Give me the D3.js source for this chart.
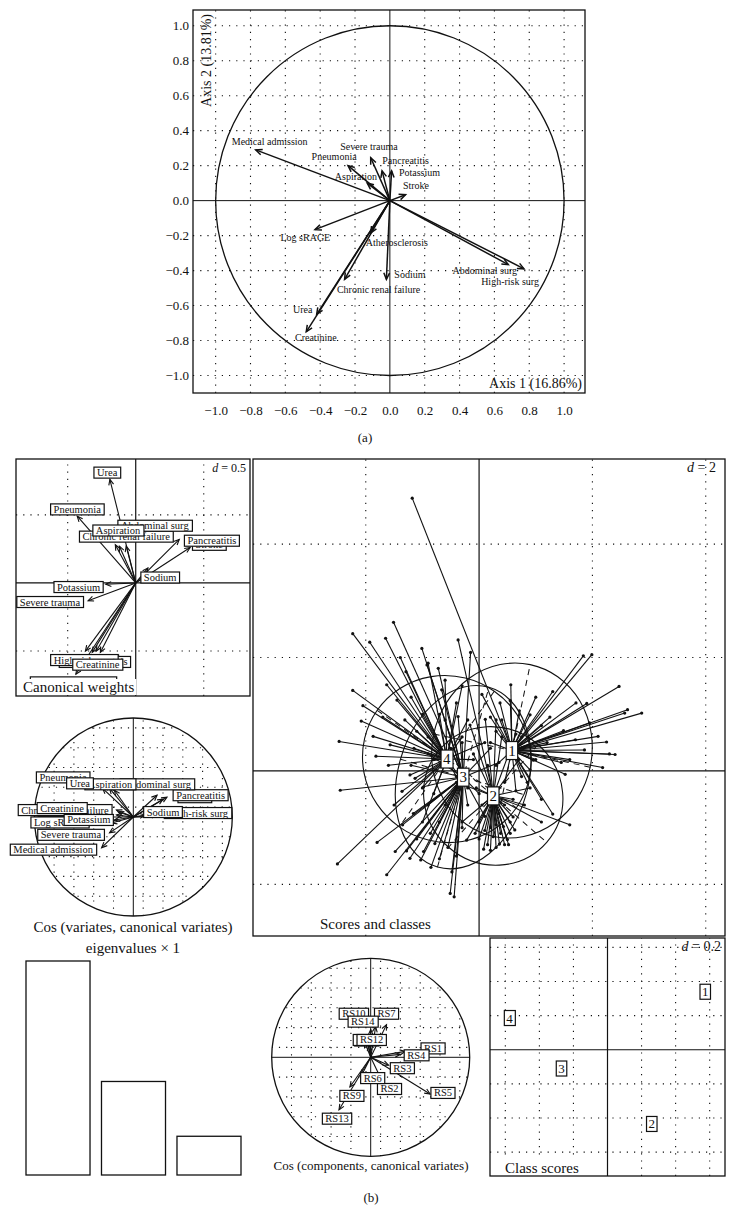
<!DOCTYPE html>
<html>
<head>
<meta charset="utf-8">
<script src="https://cdn.jsdelivr.net/npm/d3@7"></script>
<style>
  body { margin: 0; background: #fff; }
  svg text { font-family: "Liberation Serif", "DejaVu Serif", serif; fill: #111; }
</style>
</head>
<body>
<div id="chart"></div>
<script>
// ---------- data: (a) correlation circle
const varNames = ["Medical admission", "Severe trauma", "Pneumonia", "Pancreatitis", "Potassium",
  "Aspiration", "Stroke", "Log sRAGE", "Atherosclerosis", "Sodium", "Chronic renal failure",
  "Urea", "Creatinine", "Abdominal surg", "High-risk surg"];
const axis1 = [-0.77, -0.11, -0.24, -0.045, 0.01, -0.13, 0.09, -0.43, -0.11, -0.02, -0.26, -0.42, -0.48, 0.68, 0.77];
const axis2 = [0.29, 0.245, 0.20, 0.17, 0.17, 0.10, 0.034, -0.166, -0.185, -0.45, -0.45, -0.65, -0.75, -0.366, -0.39];
const labAX = [-0.69, -0.12, -0.32, 0.09, 0.17, -0.195, 0.15, -0.485, 0.04, 0.115, -0.065, -0.50, -0.425, 0.545, 0.69];
const labAY = [0.34, 0.31, 0.25, 0.23, 0.16, 0.14, 0.086, -0.21, -0.24, -0.42, -0.51, -0.62, -0.785, -0.40, -0.46];
const ticksA = [-1.0, -0.8, -0.6, -0.4, -0.2, 0.0, 0.2, 0.4, 0.6, 0.8, 1.0];

// ---------- data: (b) canonical weights (drawing order)
const cwNames = ["Medical admission", "Log sRAGE", "Atherosclerosis", "High-risk surg", "Creatinine",
  "Severe trauma", "Potassium", "Sodium", "Stroke", "Pancreatitis", "Chronic renal failure",
  "Abdominal surg", "Aspiration", "Pneumonia", "Urea"];
const cwX = [-0.44, -0.32, -0.29, -0.37, -0.26, -0.35, -0.22, 0.09, 0.40, 0.32, -0.12, -0.07, -0.15, -0.43, -0.19];
const cwY = [-0.67, -0.51, -0.50, -0.50, -0.51, -0.13, -0.01, 0.11, 0.26, 0.32, 0.27, 0.27, 0.28, 0.49, 0.76];
const cwLabX = [-0.46, -0.34, -0.30, -0.38, -0.28, -0.63, -0.42, 0.18, 0.54, 0.56, -0.07, 0.14, -0.13, -0.43, -0.21];
const cwLabY = [-0.73, -0.57, -0.58, -0.566, -0.60, -0.14, -0.03, 0.04, 0.28, 0.31, 0.34, 0.42, 0.385, 0.54, 0.81];

// ---------- data: (b) cos (variates, canonical variates)
const cvNames = ["Stroke", "Atherosclerosis", "Chronic renal failure", "Log sRAGE", "Creatinine",
  "Potassium", "Severe trauma", "Medical admission", "High-risk surg", "Sodium", "Pancreatitis",
  "Abdominal surg", "Aspiration", "Pneumonia", "Urea"];
const cvX = [0.30, -0.15, -0.17, -0.22, -0.17, -0.19, -0.24, -0.32, 0.24, 0.12, 0.34, 0.24, -0.19, -0.31, -0.24];
const cvY = [0.18, 0.05, 0.02, -0.06, 0.07, -0.03, -0.16, -0.31, 0.02, 0.02, 0.20, 0.22, 0.27, 0.29, 0.29];
const cvLabX = [0.62, -0.60, -0.69, -0.74, -0.72, -0.45, -0.63, -0.81, 0.65, 0.30, 0.68, 0.24, -0.235, -0.71, -0.54];
const cvLabY = [0.20, 0.06, 0.07, -0.055, 0.09, -0.03, -0.18, -0.33, 0.04, 0.05, 0.22, 0.33, 0.33, 0.40, 0.34];

// ---------- data: (b) eigenvalues
const eigenvalues = [1.0, 0.437, 0.181];

// ---------- data: (b) scores and classes
const classIds = ["1", "2", "3", "4"];
const centerX = [0.58, 0.25, -0.28, -0.57];
const centerY = [0.36, -0.44, -0.11, 0.21];
const ellA = [1.55, 1.25, 1.65, 1.50];
const ellB = [1.41, 1.20, 1.15, 1.46];
const ellAngle = [78, -41, 74, -35];
const class1 = [[-1.18, 4.81], [1.84, 2.03], [1.99, 2.05], [2.47, 1.49], [0.56, 1.52], [2.18, 0.06], [2.40, 0.29],
  [2.25, 0.51], [2.62, 1.08], [2.87, 1.02], [2.57, 1.02], [1.90, 1.19], [1.71, 1.20], [1.86, 0.37], [1.49, 0.71],
  [2.10, 0.61], [0.90, 0.99], [0.71, 1.06], [0.55, 1.24], [0.37, 1.20], [1.30, -0.76], [0.96, 0.19], [0.90, 0.02],
  [1.52, -0.06], [1.20, 0.50], [1.10, 0.80], [0.30, 0.70], [0.85, -0.20], [1.60, 0.20], [1.10, -0.50], [0.20, 0.50],
  [1.30, 1.40], [1.95, 0.85], [0.75, 0.60], [1.45, 0.15], [2.30, 0.30], [0.05, 1.35], [1.00, 1.30],
  [0.90, 0.45], [0.30, 0.10], [0.75, -0.10], [0.40, 0.90], [1.00, 0.20], [0.20, 0.95], [0.65, -0.35],
  [1.25, 0.95], [0.45, -0.20], [1.70, 0.55]];
const class2 = [[-0.37, 2.31], [0.08, -1.38], [0.36, -1.29], [0.50, -1.21], [0.63, -1.04], [-0.07, -1.10], [0.25, -1.16],
  [0.43, -0.98], [0.60, -0.81], [-0.22, -1.22], [0.11, 0.91], [-0.16, 0.81], [0.90, -0.30], [1.10, -0.90], [0.00, -0.90],
  [0.45, -1.30], [0.30, -1.35], [0.15, -1.30], [0.55, -0.90], [0.70, 0.20], [0.40, 0.60], [-0.40, -0.20], [-0.10, 0.30],
  [0.20, -1.40], [0.38, -1.10], [0.52, -1.30], [0.10, -1.05], [0.80, -0.60], [-0.30, -0.90], [0.65, 0.65], [0.30, 0.90],
  [1.60, -0.95], [0.35, -0.75], [0.05, -0.60], [0.60, -0.50], [0.20, -1.00], [0.45, -0.60], [-0.05, -0.30],
  [0.30, -0.95], [0.15, 0.10], [0.55, -1.10], [0.00, -1.20]];
const class3 = [[-1.51, 2.62], [-1.01, 2.16], [-0.92, 1.87], [-0.72, 1.81], [-2.45, -0.34], [-1.80, -1.26], [-1.63, -1.83],
  [-1.48, -1.42], [-1.28, -1.41], [-1.22, -1.54], [-1.03, -1.57], [-0.98, -1.42], [-0.51, -2.16], [-0.44, -2.22],
  [-0.48, -1.78], [-0.86, -1.10], [-0.78, -1.28], [-1.16, -0.75], [-0.98, -0.28], [-0.66, 1.43], [-0.15, 2.09],
  [-0.37, 0.96], [-0.60, -0.60], [0.10, -0.80], [-0.90, 0.30], [-0.30, -1.00], [0.20, 0.40], [-1.10, -1.20],
  [-0.70, -1.55], [-0.55, -1.35], [-1.35, -0.95], [0.35, 0.15], [-0.70, -0.90], [-0.50, 0.40], [-0.20, -0.60],
  [-0.90, -0.60], [-0.40, -1.50], [-0.60, 0.90], [0.00, -0.40], [-1.20, 0.10], [-0.85, -1.70], [-0.30, 0.50]];
const class4 = [[-2.23, 2.42], [-1.93, 2.27], [-1.65, 2.34], [-1.39, 2.00], [-1.63, 1.52], [-2.23, 1.42], [-2.08, 0.88],
  [-2.47, 0.52], [-1.87, 0.61], [-1.82, 0.26], [-1.57, 0.46], [-2.50, -1.64], [-1.29, 1.75], [-1.45, 1.25], [-1.31, 0.90],
  [-1.22, -0.07], [-1.13, -0.13], [-1.36, -0.36], [-1.00, 1.00], [-0.20, 0.90], [0.10, 0.50], [-0.40, 1.20],
  [-0.90, 0.60], [-0.80, -0.40], [-1.00, -0.90], [-0.20, -0.30], [-0.90, 1.90], [-1.70, 0.95], [-1.15, 0.40],
  [-0.60, 1.60], [-1.50, -0.60], [-2.05, 1.15], [-0.30, 0.60], [-1.10, 0.70], [-0.80, 0.20], [-0.40, -0.10],
  [-1.20, 1.30], [-0.70, 1.00], [-0.30, 1.50], [-1.60, 0.10], [-0.10, 0.20], [-1.00, -0.30]];
const classPoints = [class1, class2, class3, class4];

// ---------- data: (b) cos (components, canonical variates)
const rsNames = ["RS8", "RS11", "RS10", "RS7", "RS14", "RS12", "RS1", "RS4", "RS3", "RS2", "RS6", "RS5", "RS9", "RS13"];
const rsX = [-0.02, -0.06, 0.00, 0.16, 0.05, -0.04, 0.35, 0.30, 0.18, 0.11, -0.09, 0.60, -0.21, -0.32];
const rsY = [0.12, 0.15, 0.28, 0.33, 0.31, 0.18, 0.06, 0.03, -0.08, -0.23, -0.18, -0.37, -0.30, -0.53];
const rsLabX = [-0.04, -0.03, -0.17, 0.16, -0.08, 0.01, 0.63, 0.46, 0.32, 0.19, 0.02, 0.73, -0.19, -0.34];
const rsLabY = [0.17, 0.175, 0.44, 0.44, 0.36, 0.175, 0.09, 0.02, -0.11, -0.32, -0.21, -0.36, -0.39, -0.62];

// ---------- data: (b) class scores
const csX = [0.574, 0.26, -0.27, -0.575];
const csY = [0.34, -0.435, -0.11, 0.186];

// ---------- helpers
const ink = "#111";
const svg = d3.select("#chart").append("svg").attr("width", 736).attr("height", 1232);

function dotted(sel) {
  return sel.attr("stroke", ink).attr("stroke-width", 1.1).attr("stroke-dasharray", "1.2,6").attr("fill", "none");
}

function arrow(g, x1, y1, x2, y2, len, sw) {
  g.append("line").attr("x1", x1).attr("y1", y1).attr("x2", x2).attr("y2", y2)
   .attr("stroke", ink).attr("stroke-width", sw);
  const a = Math.atan2(y2 - y1, x2 - x1), w = 0.42;
  const p1 = [x2 + len * Math.cos(a + Math.PI - w), y2 + len * Math.sin(a + Math.PI - w)];
  const p2 = [x2 + len * Math.cos(a + Math.PI + w), y2 + len * Math.sin(a + Math.PI + w)];
  g.append("path").attr("d", "M" + p1 + "L" + x2 + "," + y2 + "L" + p2)
   .attr("fill", "none").attr("stroke", ink).attr("stroke-width", sw);
}

// text with a rectangle behind it (boxed label or white-backed title)
function boxText(g, x, y, txt, fs, stroke, anchor, padX, padY) {
  const t = g.append("text").attr("x", x).attr("y", y)
    .attr("text-anchor", anchor || "middle").attr("dominant-baseline", "central")
    .style("font-size", fs + "px").text(txt);
  const bb = t.node().getBBox();
  const px = padX == null ? 3 : padX, py = padY == null ? 0 : padY;
  g.insert("rect", () => t.node())
    .attr("x", bb.x - px).attr("y", bb.y - py)
    .attr("width", bb.width + 2 * px).attr("height", bb.height + 2 * py)
    .attr("fill", "#fff").attr("stroke", stroke ? ink : "none").attr("stroke-width", 1.2);
  return t;
}

function dText(g, x, y, label, fs) {
  const t = g.append("text").attr("x", x).attr("y", y).attr("text-anchor", "end").style("font-size", fs + "px");
  t.append("tspan").style("font-style", "italic").text("d");
  t.append("tspan").text(" = " + label);
}

function gridPanel(g, xs, ys, gx, gy, clip) {
  const gg = g.append("g").attr("clip-path", clip ? "url(#" + clip + ")" : null);
  const [x0, x1] = xs.range(), [y0, y1] = ys.range();
  gg.selectAll(".gx").data(gx).join("line")
    .attr("x1", d => xs(d)).attr("x2", d => xs(d)).attr("y1", y0).attr("y2", y1).call(dotted);
  gg.selectAll(".gy").data(gy).join("line")
    .attr("y1", d => ys(d)).attr("y2", d => ys(d)).attr("x1", x0).attr("x2", x1).call(dotted);
}

// ================= (a)
const xa = d3.scaleLinear().domain([-1.13, 1.12]).range([193, 585]);
const ya = d3.scaleLinear().domain([-1.1, 1.09]).range([393, 10]);
const ga = svg.append("g");
gridPanel(ga, xa, ya, ticksA.filter(d => d !== 0), ticksA.filter(d => d !== 0));
ga.append("line").attr("x1", xa(0)).attr("x2", xa(0)).attr("y1", 10).attr("y2", 393).attr("stroke", ink);
ga.append("line").attr("y1", ya(0)).attr("y2", ya(0)).attr("x1", 193).attr("x2", 585).attr("stroke", ink);
ga.append("ellipse").attr("cx", xa(0)).attr("cy", ya(0))
  .attr("rx", xa(1) - xa(0)).attr("ry", ya(0) - ya(1))
  .attr("fill", "none").attr("stroke", ink).attr("stroke-width", 1.3);
varNames.forEach((n, i) => arrow(ga, xa(0), ya(0), xa(axis1[i]), ya(axis2[i]), 7, 1.5));
ga.selectAll(".lab").data(varNames).join("text")
  .attr("x", (d, i) => xa(labAX[i])).attr("y", (d, i) => ya(labAY[i]))
  .attr("text-anchor", "middle").attr("dominant-baseline", "central")
  .style("font-size", "10px").text(d => d);
ga.append("text").attr("transform", "translate(" + 211 + "," + 14 + ")rotate(-90)")
  .attr("text-anchor", "end").style("font-size", "14px").text("Axis 2 (13.81%)");
ga.append("text").attr("x", 582).attr("y", 388).attr("text-anchor", "end")
  .style("font-size", "14px").text("Axis 1 (16.86%)");
ga.append("rect").attr("x", 193).attr("y", 10).attr("width", 392).attr("height", 383)
  .attr("fill", "none").attr("stroke", ink).attr("stroke-width", 1.3);
ga.append("g").attr("transform", "translate(0,393)")
  .call(d3.axisBottom(xa).tickValues(ticksA).tickSize(0).tickPadding(13).tickFormat(d3.format(".1f")))
  .call(g => g.select(".domain").remove())
  .call(g => g.selectAll("text").style("font-size", "13px").attr("fill", ink)
    .style("font-family", "'Liberation Serif', serif"));
ga.append("g").attr("transform", "translate(193,0)")
  .call(d3.axisLeft(ya).tickValues(ticksA).tickSize(0).tickPadding(4).tickFormat(d3.format(".1f")))
  .call(g => g.select(".domain").remove())
  .call(g => g.selectAll("text").style("font-size", "13px").attr("fill", ink)
    .style("font-family", "'Liberation Serif', serif"));
ga.append("text").attr("x", 365).attr("y", 442).attr("text-anchor", "middle").style("font-size", "13px").text("(a)");

// ================= (b) canonical weights
const xw = d3.scaleLinear().domain([-0.88, 0.84]).range([16, 250]);
const yw = d3.scaleLinear().domain([-0.83, 0.91]).range([696, 459]);
const gw = svg.append("g");
gw.append("rect").attr("x", 16).attr("y", 459).attr("width", 234).attr("height", 237).attr("fill", "#fff");
gridPanel(gw, xw, yw, [-0.5, 0.5], [-0.5, 0.5]);
gw.append("line").attr("x1", xw(0)).attr("x2", xw(0)).attr("y1", 459).attr("y2", 696).attr("stroke", ink).attr("stroke-width", 1.2);
gw.append("line").attr("y1", yw(0)).attr("y2", yw(0)).attr("x1", 16).attr("x2", 250).attr("stroke", ink).attr("stroke-width", 1.2);
cwNames.forEach((n, i) => arrow(gw, xw(0), yw(0), xw(cwX[i]), yw(cwY[i]), 6, 1.1));
cwNames.forEach((n, i) => boxText(gw, xw(cwLabX[i]), yw(cwLabY[i]), n, 10.5, true));
dText(gw, 246, 472, "0.5", 12);
boxText(gw, 23, 687, "Canonical weights", 15, false, "start", 2, 0);
gw.append("rect").attr("x", 16).attr("y", 459).attr("width", 234).attr("height", 237)
  .attr("fill", "none").attr("stroke", ink).attr("stroke-width", 1.3);

// ================= (b) cos (variates, canonical variates)
const xv = d3.scaleLinear().domain([-1, 1]).range([34.3, 232.3]);
const yv = d3.scaleLinear().domain([-1, 1]).range([916, 718]);
const gv = svg.append("g");
svg.append("defs").append("clipPath").attr("id", "clipV").append("circle")
  .attr("cx", xv(0)).attr("cy", yv(0)).attr("r", xv(1) - xv(0));
const fine = d3.range(-9, 10).filter(d => d !== 0).map(d => d / 10);
gridPanel(gv, xv, yv, fine.filter((d, i) => i % 2 === 1), fine.filter((d, i) => i % 2 === 1), "clipV");
gv.append("circle").attr("cx", xv(0)).attr("cy", yv(0)).attr("r", xv(1) - xv(0))
  .attr("fill", "none").attr("stroke", ink).attr("stroke-width", 1.3);
gv.append("line").attr("x1", xv(0)).attr("x2", xv(0)).attr("y1", yv(1)).attr("y2", yv(-1)).attr("stroke", ink);
gv.append("line").attr("y1", yv(0)).attr("y2", yv(0)).attr("x1", xv(-1)).attr("x2", xv(1)).attr("stroke", ink);
cvNames.forEach((n, i) => arrow(gv, xv(0), yv(0), xv(cvX[i]), yv(cvY[i]), 6, 1.1));
cvNames.forEach((n, i) => boxText(gv, xv(cvLabX[i]), yv(cvLabY[i]), n, 10.5, true));
gv.append("text").attr("x", 133).attr("y", 932).attr("text-anchor", "middle")
  .style("font-size", "15px").text("Cos (variates, canonical variates)");

// ================= (b) eigenvalues
const xe = d3.scaleBand().domain(eigenvalues.map((d, i) => i)).range([26, 241]).paddingInner(0.152);
const ye = d3.scaleLinear().domain([0, d3.max(eigenvalues)]).range([1175, 961]);
const ge = svg.append("g");
ge.append("text").attr("x", 133).attr("y", 953).attr("text-anchor", "middle")
  .style("font-size", "15px").text("eigenvalues × 1");
ge.selectAll("rect").data(eigenvalues).join("rect")
  .attr("x", (d, i) => xe(i)).attr("width", xe.bandwidth())
  .attr("y", d => ye(d)).attr("height", d => ye(0) - ye(d))
  .attr("fill", "#fff").attr("stroke", ink).attr("stroke-width", 1.3);

// ================= (b) scores and classes
const xs = d3.scaleLinear().domain([-3.99, 4.34]).range([253, 725]);
const ys = d3.scaleLinear().domain([-2.91, 5.50]).range([936, 459]);
const gs = svg.append("g");
gridPanel(gs, xs, ys, [-2, 2, 4], [-2, 2, 4]);
gs.append("line").attr("x1", xs(0)).attr("x2", xs(0)).attr("y1", 459).attr("y2", 936).attr("stroke", ink).attr("stroke-width", 1.2);
gs.append("line").attr("y1", ys(0)).attr("y2", ys(0)).attr("x1", 253).attr("x2", 725).attr("stroke", ink).attr("stroke-width", 1.2);
const kx = xs(1) - xs(0), ky = ys(0) - ys(1);
classIds.forEach((c, k) => {
  const cx = xs(centerX[k]), cy = ys(centerY[k]);
  const rot = "translate(" + cx + "," + cy + ")rotate(" + (-ellAngle[k]) + ")";
  gs.append("ellipse").attr("transform", rot).attr("rx", ellA[k] * kx).attr("ry", ellB[k] * ky)
    .attr("fill", "none").attr("stroke", ink).attr("stroke-width", 1.1);
  gs.append("line").attr("transform", rot).attr("x1", -ellA[k] * kx).attr("x2", ellA[k] * kx)
    .attr("stroke", ink).attr("stroke-dasharray", "6,5");
  gs.append("line").attr("transform", rot).attr("y1", -ellB[k] * ky).attr("y2", ellB[k] * ky)
    .attr("stroke", ink).attr("stroke-dasharray", "6,5");
});
classPoints.forEach((pts, k) => {
  gs.append("g").selectAll("line").data(pts).join("line")
    .attr("x1", xs(centerX[k])).attr("y1", ys(centerY[k]))
    .attr("x2", d => xs(d[0])).attr("y2", d => ys(d[1]))
    .attr("stroke", ink).attr("stroke-width", 1.1);
  gs.append("g").selectAll("circle").data(pts).join("circle")
    .attr("cx", d => xs(d[0])).attr("cy", d => ys(d[1])).attr("r", 1.6).attr("fill", ink);
});
classIds.forEach((c, k) => boxText(gs, xs(centerX[k]), ys(centerY[k]), c, 15, true, "middle", 2, 1));
dText(gs, 716, 472, "2", 14);
boxText(gs, 320, 924, "Scores and classes", 15, false, "start", 2, 0);
gs.append("rect").attr("x", 253).attr("y", 459).attr("width", 472).attr("height", 477)
  .attr("fill", "none").attr("stroke", ink).attr("stroke-width", 1.3);

// ================= (b) cos (components, canonical variates)
const xr = d3.scaleLinear().domain([-1, 1]).range([271.7, 469.7]);
const yr = d3.scaleLinear().domain([-1, 1]).range([1156.3, 958.3]);
const gr = svg.append("g");
svg.select("defs").append("clipPath").attr("id", "clipR").append("circle")
  .attr("cx", xr(0)).attr("cy", yr(0)).attr("r", xr(1) - xr(0));
gridPanel(gr, xr, yr, fine.filter((d, i) => i % 2 === 1), fine.filter((d, i) => i % 2 === 1), "clipR");
gr.append("circle").attr("cx", xr(0)).attr("cy", yr(0)).attr("r", xr(1) - xr(0))
  .attr("fill", "none").attr("stroke", ink).attr("stroke-width", 1.3);
gr.append("line").attr("x1", xr(0)).attr("x2", xr(0)).attr("y1", yr(1)).attr("y2", yr(-1)).attr("stroke", ink);
gr.append("line").attr("y1", yr(0)).attr("y2", yr(0)).attr("x1", xr(-1)).attr("x2", xr(1)).attr("stroke", ink);
rsNames.forEach((n, i) => arrow(gr, xr(0), yr(0), xr(rsX[i]), yr(rsY[i]), 6, 1.1));
rsNames.forEach((n, i) => boxText(gr, xr(rsLabX[i]), yr(rsLabY[i]), n, 10.5, true));
gr.append("text").attr("x", 371).attr("y", 1170).attr("text-anchor", "middle")
  .style("font-size", "13px").text("Cos (components, canonical variates)");
gr.append("text").attr("x", 371).attr("y", 1202).attr("text-anchor", "middle")
  .style("font-size", "13px").text("(b)");

// ================= (b) class scores
const xc = d3.scaleLinear().domain([-0.69, 0.69]).range([490, 725]);
const yc = d3.scaleLinear().domain([-0.74, 0.655]).range([1176, 938]);
const gc = svg.append("g");
gc.append("rect").attr("x", 490).attr("y", 938).attr("width", 235).attr("height", 238).attr("fill", "#fff");
const cg = [-0.6, -0.4, -0.2, 0.2, 0.4, 0.6];
gridPanel(gc, xc, yc, cg, cg);
gc.append("line").attr("x1", xc(0)).attr("x2", xc(0)).attr("y1", 938).attr("y2", 1176).attr("stroke", ink).attr("stroke-width", 1.2);
gc.append("line").attr("y1", yc(0)).attr("y2", yc(0)).attr("x1", 490).attr("x2", 725).attr("stroke", ink).attr("stroke-width", 1.2);
classIds.forEach((c, k) => boxText(gc, xc(csX[k]), yc(csY[k]), c, 13, true, "middle", 2, 0));
dText(gc, 721, 951, "0.2", 14);
boxText(gc, 505, 1168, "Class scores", 15, false, "start", 2, 0);
gc.append("rect").attr("x", 490).attr("y", 938).attr("width", 235).attr("height", 238)
  .attr("fill", "none").attr("stroke", ink).attr("stroke-width", 1.3);
</script>
</body>
</html>
